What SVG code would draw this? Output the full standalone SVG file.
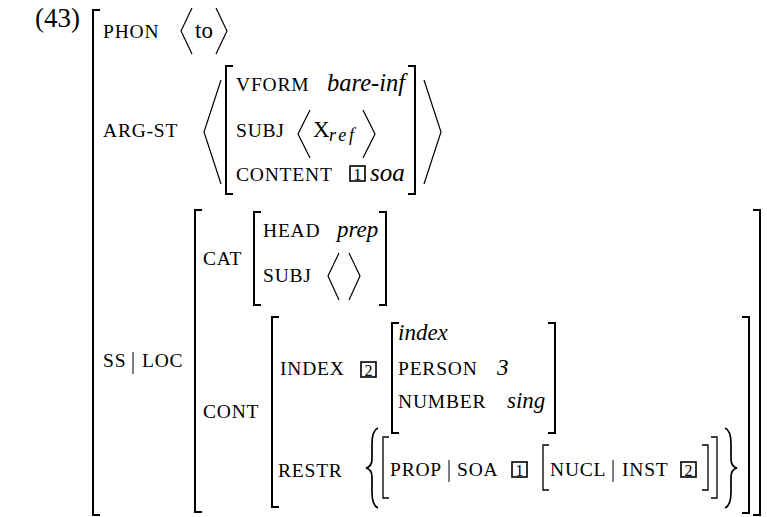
<svg xmlns="http://www.w3.org/2000/svg" width="767" height="517" viewBox="0 0 767 517">
<style>
text{font-family:"Liberation Serif","Times New Roman",serif;fill:#000}
.sc{font-size:19.5px;letter-spacing:0.8px}
.rm{font-size:23px}
.it{font-size:23px;font-style:italic}
.br{fill:none;stroke:#000;stroke-width:2}
.bt{fill:none;stroke:#000;stroke-width:1.3}
.brace{fill:none;stroke:#000;stroke-width:1.7}
.ang{fill:none;stroke:#000;stroke-width:1.2}
.bar{stroke:#000;stroke-width:1}
.box{fill:none;stroke:#000;stroke-width:1.6}
.tag{font-size:16px;text-anchor:middle}
</style>
<rect width="767" height="517" fill="#fff"/>
<text id="label" x="35" y="27" style="font-size:27px">(43)</text>

<g id="outer">
<path class="br" d="M100,10 H93 V515 H100"/>
</g>

<g id="phon">
<text class="sc" x="103" y="38">PHON</text>
<path class="ang" d="M192,8 L181,31 L192,54"/>
<text class="rm" x="195" y="38">to</text>
<path class="ang" d="M216,8 L227,31 L216,54"/>
</g>

<g id="argst">
<text class="sc" x="103" y="137">ARG-ST</text>
<path class="ang" d="M221,80 L204,132 L221,184"/>
<path class="br" d="M233,66 H226 V194 H233"/>
<text class="sc" x="236" y="91">VFORM</text>
<text class="it" x="327" y="91" style="font-size:24.5px">bare-inf</text>
<text class="sc" x="236" y="137">SUBJ</text>
<path class="ang" d="M310,110 L298,134 L310,158"/>
<text class="rm" x="313" y="137">X</text>
<text class="it" x="329" y="141" style="font-size:18px" textLength="25">ref</text>
<path class="ang" d="M363,110 L375,134 L363,158"/>
<text class="sc" x="236" y="181">CONTENT</text>
<rect class="box" x="350" y="166" width="15" height="15"/>
<text class="tag" x="357.5" y="179.5">1</text>
<text class="it" x="370" y="181" style="font-size:25px">soa</text>
<path class="br" d="M408,66 H415 V194 H408"/>
<path class="ang" d="M424,80 L441,132 L424,184"/>
</g>

<g id="ssloc">
<text class="sc" x="103" y="367">SS</text>
<line class="bar" x1="133" y1="352" x2="133" y2="374"/>
<text class="sc" x="142" y="367">LOC</text>
<path class="br" d="M202,210 H195 V512 H202"/>
<path class="br" d="M753,210 H760 V515 H753"/>
</g>

<g id="cat">
<text class="sc" x="203" y="265">CAT</text>
<path class="br" d="M261,212 H254 V305 H261"/>
<text class="sc" x="263" y="237">HEAD</text>
<text class="it" x="337" y="237">prep</text>
<text class="sc" x="263" y="282">SUBJ</text>
<path class="ang" d="M339,253 L328,276 L339,300"/>
<path class="ang" d="M349,253 L360,276 L349,300"/>
<path class="br" d="M379,212 H386 V305 H379"/>
</g>

<g id="cont">
<text class="sc" x="203" y="418">CONT</text>
<path class="br" d="M279,317 H272 V507 H279"/>
<path class="br" d="M742,317 H749 V513 H742"/>
</g>

<g id="index">
<text class="sc" x="280" y="375">INDEX</text>
<rect class="box" x="361" y="362" width="15" height="15"/>
<text class="tag" x="368.5" y="375.5">2</text>
<path class="br" d="M399,323 H392 V433 H399"/>
<text class="it" x="398" y="340">index</text>
<text class="sc" x="398" y="375">PERSON</text>
<text class="it" x="497" y="375">3</text>
<text class="sc" x="398" y="408">NUMBER</text>
<text class="it" x="507" y="408">sing</text>
<path class="br" d="M548,323 H555 V433 H548"/>
</g>

<g id="restr">
<text class="sc" x="278" y="477">RESTR</text>
<path class="brace" d="M378,428 C373,430 372,436 372,444 L372,459 C372,464 370,467 366,468 C370,469 372,472 372,477 L372,492 C372,500 373,506 378,508"/>
<path class="bt" d="M389,437 H383 V498 H389"/>
<text class="sc" x="390" y="476">PROP</text>
<line class="bar" x1="449" y1="460" x2="449" y2="482"/>
<text class="sc" x="457" y="476">SOA</text>
<rect class="box" x="512" y="462" width="15" height="15"/>
<text class="tag" x="519.5" y="475.5">1</text>
<path class="bt" d="M549,445 H543 V490 H549"/>
<text class="sc" x="550" y="476">NUCL</text>
<line class="bar" x1="613" y1="460" x2="613" y2="482"/>
<text class="sc" x="622" y="476">INST</text>
<rect class="box" x="681" y="462" width="15" height="15"/>
<text class="tag" x="688.5" y="475.5">2</text>
<path class="bt" d="M702,445 H708 V490 H702"/>
<path class="bt" d="M711,437 H717 V498 H711"/>
<path class="brace" d="M725,428 C730,430 731,436 731,444 L731,459 C731,464 733,467 737,468 C733,469 731,472 731,477 L731,492 C731,500 730,506 725,508"/>
</g>

<g id="connectors"></g>
</svg>
